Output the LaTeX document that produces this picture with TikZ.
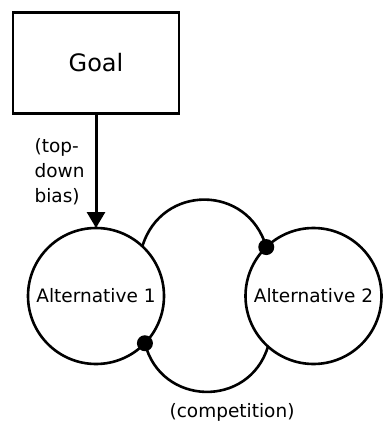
\documentclass[tikz,border=0pt]{standalone}
\usepackage{fontspec}
\setmainfont{DejaVu Sans}
\usetikzlibrary{arrows.meta}
\begin{document}
\begin{tikzpicture}[x=1pt,y=1pt,
  box/.style={draw,line width=2.8pt,minimum width=166pt,minimum height=101pt,font=\fontsize{24}{28}\selectfont},
  alt/.style={draw,circle,line width=2.6pt,minimum size=136pt,inner sep=0pt,outer sep=0pt,font=\fontsize{18.5}{22}\selectfont},
  link/.style={line width=2.6pt},
  bias/.style={line width=3pt,-{Triangle[width=18pt,length=16pt]}},
  lbl/.style={font=\fontsize{18.5}{25}\selectfont,align=left,inner sep=0pt}]
\pgfmathsetmacro{\r}{8}
\useasboundingbox (0,0) rectangle (382,-427);
\node[box] (goal) at (96,-63) {Goal};
\node[alt] (alt1) at (96,-296) {Alternative 1};
\node[alt] (alt2) at (313.5,-296) {Alternative 2};
\draw[bias] (goal) -- (alt1) node[lbl,pos=0.5,left=10pt] (biaslbl) {(top-\\down\\bias)};
\draw[link] (alt1.47) to[out=73,in=106,looseness=1.35] (alt2.134);
\draw[link] (alt1.-44) to[out=-76,in=-107,looseness=1.35] (alt2.-132);
\fill (alt2.134) circle (\r);
\fill (alt1.-44) circle (\r);
\node[lbl] (comp) at (232,-412) {(competition)};
\end{tikzpicture}
\end{document}
